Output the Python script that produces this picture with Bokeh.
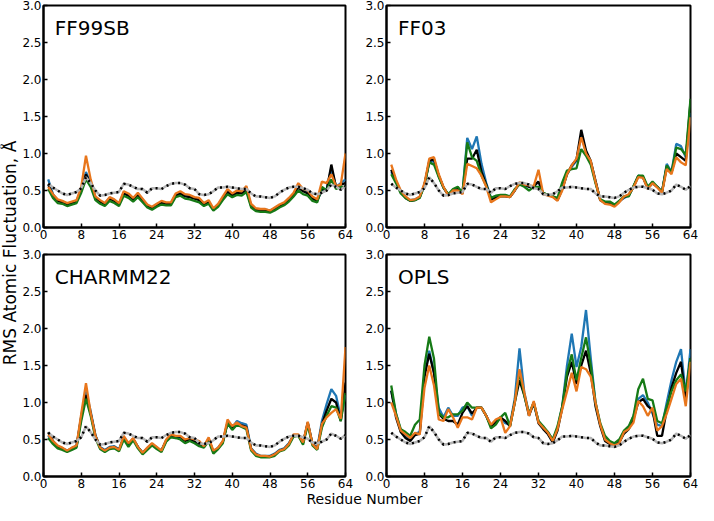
import math
from bokeh.plotting import figure
from bokeh.models import Range1d, Label, FixedTicker, NumeralTickFormatter
from bokeh.layouts import row, column
from bokeh.embed import file_html
from bokeh.resources import INLINE
from bokeh.core.validation import silence
from bokeh.core.validation.warnings import MISSING_RENDERERS

silence(MISSING_RENDERERS, True)

residues = list(range(1, 65))
x_ticks = [0, 8, 16, 24, 32, 40, 48, 56, 64]
y_ticks = [0.0, 0.5, 1.0, 1.5, 2.0, 2.5, 3.0]

exp_rmsf = [0.59, 0.54, 0.50, 0.46, 0.44, 0.46, 0.48, 0.53,
            0.68, 0.60, 0.50, 0.43, 0.44, 0.46, 0.47, 0.48,
            0.59, 0.58, 0.55, 0.52, 0.52, 0.47, 0.53, 0.53,
            0.52, 0.56, 0.59, 0.60, 0.60, 0.58, 0.53, 0.52,
            0.45, 0.44, 0.45, 0.49, 0.54, 0.54, 0.55, 0.54,
            0.53, 0.52, 0.52, 0.46, 0.42, 0.42, 0.41, 0.40,
            0.42, 0.47, 0.51, 0.54, 0.55, 0.55, 0.53, 0.51,
            0.46, 0.45, 0.47, 0.50, 0.58, 0.55, 0.51, 0.56]

# ---- FF99SB ----
ff99sb_blue = [0.65, 0.45, 0.37, 0.35, 0.32, 0.34, 0.36, 0.52,
               0.75, 0.60, 0.41, 0.36, 0.32, 0.40, 0.37, 0.32,
               0.47, 0.44, 0.39, 0.45, 0.38, 0.30, 0.27, 0.31,
               0.34, 0.33, 0.33, 0.44, 0.47, 0.43, 0.42, 0.40,
               0.38, 0.32, 0.35, 0.25, 0.31, 0.40, 0.49, 0.44,
               0.48, 0.47, 0.52, 0.30, 0.25, 0.24, 0.24, 0.23,
               0.26, 0.30, 0.33, 0.38, 0.45, 0.55, 0.50, 0.48,
               0.40, 0.37, 0.50, 0.52, 0.80, 0.55, 0.60, 0.65]
ff99sb_black = [0.58, 0.44, 0.36, 0.34, 0.31, 0.33, 0.35, 0.50,
                0.72, 0.58, 0.40, 0.35, 0.31, 0.39, 0.36, 0.31,
                0.46, 0.43, 0.38, 0.44, 0.37, 0.29, 0.26, 0.30,
                0.33, 0.32, 0.32, 0.43, 0.46, 0.42, 0.41, 0.39,
                0.37, 0.31, 0.34, 0.24, 0.30, 0.39, 0.48, 0.43,
                0.47, 0.46, 0.51, 0.29, 0.24, 0.23, 0.23, 0.22,
                0.25, 0.29, 0.32, 0.37, 0.44, 0.54, 0.49, 0.46,
                0.39, 0.36, 0.52, 0.50, 0.85, 0.54, 0.58, 0.60]
ff99sb_green = [0.52, 0.40, 0.33, 0.32, 0.29, 0.31, 0.33, 0.47,
                0.65, 0.55, 0.37, 0.32, 0.29, 0.36, 0.33, 0.29,
                0.43, 0.40, 0.35, 0.41, 0.34, 0.27, 0.24, 0.28,
                0.31, 0.30, 0.30, 0.41, 0.43, 0.39, 0.38, 0.36,
                0.34, 0.29, 0.32, 0.23, 0.28, 0.37, 0.45, 0.41,
                0.44, 0.43, 0.48, 0.27, 0.22, 0.21, 0.21, 0.20,
                0.23, 0.27, 0.30, 0.35, 0.42, 0.50, 0.45, 0.43,
                0.36, 0.34, 0.55, 0.50, 0.65, 0.52, 0.55, 0.55]
ff99sb_orange = [0.55, 0.45, 0.38, 0.36, 0.33, 0.35, 0.37, 0.55,
                 0.97, 0.65, 0.42, 0.37, 0.33, 0.41, 0.38, 0.33,
                 0.49, 0.46, 0.40, 0.47, 0.39, 0.31, 0.28, 0.32,
                 0.36, 0.34, 0.34, 0.46, 0.49, 0.45, 0.44, 0.41,
                 0.40, 0.33, 0.37, 0.26, 0.32, 0.42, 0.52, 0.46,
                 0.50, 0.49, 0.56, 0.32, 0.26, 0.25, 0.25, 0.23,
                 0.27, 0.31, 0.34, 0.40, 0.47, 0.60, 0.52, 0.50,
                 0.42, 0.38, 0.62, 0.60, 0.72, 0.56, 0.58, 1.00]

# ---- FF03 ----
ff03_blue = [0.75, 0.63, 0.48, 0.41, 0.37, 0.38, 0.41, 0.58,
             0.88, 0.90, 0.70, 0.54, 0.44, 0.50, 0.52, 0.47,
             1.21, 1.06, 1.23, 0.86, 0.60, 0.40, 0.42, 0.43,
             0.43, 0.42, 0.50, 0.60, 0.57, 0.55, 0.56, 0.62,
             0.46, 0.44, 0.42, 0.37, 0.52, 0.72, 0.82, 0.90,
             1.25, 1.02, 0.88, 0.62, 0.37, 0.34, 0.34, 0.30,
             0.36, 0.40, 0.43, 0.55, 0.70, 0.68, 0.53, 0.60,
             0.55, 0.48, 0.86, 0.75, 1.13, 1.10, 0.95, 1.55]
ff03_black = [0.78, 0.62, 0.48, 0.40, 0.36, 0.37, 0.41, 0.58,
              0.90, 0.92, 0.70, 0.54, 0.44, 0.50, 0.52, 0.46,
              0.93, 0.93, 1.05, 0.75, 0.58, 0.38, 0.40, 0.42,
              0.42, 0.41, 0.50, 0.60, 0.58, 0.55, 0.56, 0.62,
              0.46, 0.44, 0.42, 0.37, 0.52, 0.72, 0.84, 0.92,
              1.32, 1.04, 0.90, 0.63, 0.37, 0.33, 0.32, 0.29,
              0.35, 0.41, 0.44, 0.55, 0.69, 0.68, 0.53, 0.60,
              0.55, 0.48, 0.82, 0.74, 1.00, 0.95, 0.90, 1.70]
ff03_green = [0.72, 0.60, 0.46, 0.40, 0.36, 0.37, 0.40, 0.57,
              0.88, 0.85, 0.68, 0.54, 0.45, 0.52, 0.55, 0.47,
              1.15, 0.95, 0.90, 0.70, 0.56, 0.40, 0.43, 0.44,
              0.44, 0.42, 0.52, 0.58, 0.55, 0.50, 0.55, 0.55,
              0.47, 0.44, 0.42, 0.40, 0.61, 0.77, 0.79, 0.80,
              1.06, 0.97, 0.85, 0.60, 0.38, 0.35, 0.35, 0.31,
              0.36, 0.42, 0.42, 0.56, 0.70, 0.70, 0.55, 0.62,
              0.55, 0.48, 0.84, 0.74, 1.08, 1.06, 0.98, 1.74]
ff03_orange = [0.85, 0.65, 0.50, 0.42, 0.37, 0.38, 0.42, 0.60,
               0.93, 0.95, 0.72, 0.55, 0.43, 0.50, 0.50, 0.45,
               0.86, 0.83, 0.80, 0.70, 0.55, 0.34, 0.38, 0.42,
               0.42, 0.41, 0.50, 0.61, 0.58, 0.57, 0.56, 0.78,
               0.45, 0.43, 0.41, 0.36, 0.50, 0.72, 0.84, 0.93,
               1.22, 1.00, 0.90, 0.62, 0.37, 0.32, 0.31, 0.28,
               0.34, 0.42, 0.45, 0.54, 0.68, 0.67, 0.52, 0.60,
               0.54, 0.47, 0.79, 0.72, 0.95, 0.88, 0.84, 1.49]

# ---- CHARMM22 ----
charmm_blue = [0.55, 0.47, 0.41, 0.38, 0.35, 0.38, 0.41, 0.82,
               1.15, 0.88, 0.56, 0.40, 0.36, 0.40, 0.41, 0.37,
               0.52, 0.43, 0.51, 0.40, 0.32, 0.38, 0.44, 0.39,
               0.35, 0.48, 0.55, 0.52, 0.53, 0.49, 0.50, 0.48,
               0.45, 0.41, 0.50, 0.34, 0.39, 0.47, 0.73, 0.66,
               0.75, 0.72, 0.70, 0.38, 0.31, 0.28, 0.28, 0.28,
               0.31, 0.36, 0.38, 0.45, 0.55, 0.56, 0.46, 0.72,
               0.45, 0.38, 0.75, 0.98, 1.18, 1.09, 0.80, 1.10]
charmm_black = [0.60, 0.48, 0.41, 0.38, 0.34, 0.38, 0.41, 0.80,
                1.10, 0.85, 0.55, 0.39, 0.35, 0.39, 0.40, 0.36,
                0.53, 0.44, 0.51, 0.40, 0.32, 0.38, 0.44, 0.39,
                0.35, 0.49, 0.56, 0.54, 0.54, 0.48, 0.50, 0.47,
                0.44, 0.41, 0.51, 0.33, 0.38, 0.47, 0.73, 0.64,
                0.72, 0.69, 0.67, 0.37, 0.30, 0.27, 0.27, 0.27,
                0.30, 0.35, 0.37, 0.44, 0.56, 0.56, 0.45, 0.73,
                0.44, 0.37, 0.70, 0.89, 1.05, 1.00, 0.75, 1.27]
charmm_green = [0.52, 0.44, 0.38, 0.36, 0.33, 0.36, 0.39, 0.75,
                1.05, 0.82, 0.52, 0.37, 0.33, 0.37, 0.38, 0.34,
                0.50, 0.40, 0.49, 0.38, 0.30, 0.36, 0.42, 0.37,
                0.33, 0.47, 0.53, 0.52, 0.50, 0.45, 0.48, 0.45,
                0.41, 0.39, 0.48, 0.31, 0.37, 0.45, 0.72, 0.63,
                0.70, 0.67, 0.64, 0.35, 0.28, 0.26, 0.26, 0.26,
                0.28, 0.34, 0.36, 0.42, 0.54, 0.55, 0.43, 0.70,
                0.42, 0.36, 0.66, 0.82, 0.95, 0.93, 0.75, 1.13]
charmm_orange = [0.57, 0.48, 0.42, 0.39, 0.35, 0.39, 0.42, 0.85,
                 1.26, 0.86, 0.55, 0.39, 0.35, 0.39, 0.40, 0.36,
                 0.55, 0.45, 0.52, 0.40, 0.32, 0.39, 0.45, 0.40,
                 0.35, 0.50, 0.57, 0.55, 0.55, 0.50, 0.52, 0.50,
                 0.48, 0.41, 0.53, 0.35, 0.39, 0.48, 0.77, 0.68,
                 0.73, 0.68, 0.66, 0.37, 0.30, 0.28, 0.28, 0.27,
                 0.30, 0.35, 0.37, 0.44, 0.57, 0.57, 0.46, 0.74,
                 0.44, 0.37, 0.71, 0.80, 0.86, 0.91, 0.78, 1.75]

# ---- OPLS ----
opls_blue = [1.16, 0.85, 0.62, 0.55, 0.50, 0.58, 0.60, 1.40,
             1.70, 1.40, 0.93, 0.80, 0.93, 0.82, 0.82, 0.93,
             0.95, 0.82, 0.93, 0.93, 0.82, 0.68, 0.73, 0.80,
             0.72, 0.70, 1.05, 1.73, 1.14, 0.85, 0.98, 0.75,
             0.66, 0.60, 0.50, 0.65, 0.95, 1.50, 1.93, 1.48,
             1.75, 2.25, 1.60, 1.00, 0.70, 0.52, 0.47, 0.44,
             0.48, 0.60, 0.66, 0.82, 1.05, 1.10, 1.00, 0.85,
             0.70, 0.68, 1.00, 1.30, 1.55, 1.72, 1.10, 1.72]
opls_black = [1.16, 0.80, 0.60, 0.52, 0.48, 0.56, 0.58, 1.35,
              1.66, 1.40, 0.85, 0.78, 0.75, 0.75, 0.70, 0.86,
              0.95, 0.85, 0.93, 0.93, 0.82, 0.68, 0.73, 0.80,
              0.75, 0.68, 1.00, 1.30, 1.10, 0.82, 1.00, 0.72,
              0.64, 0.57, 0.46, 0.62, 0.93, 1.35, 1.55, 1.25,
              1.50, 1.70, 1.40, 0.95, 0.68, 0.48, 0.44, 0.41,
              0.46, 0.58, 0.64, 0.78, 1.00, 1.05, 0.95, 0.90,
              0.55, 0.55, 0.90, 1.20, 1.40, 1.55, 1.05, 1.60]
opls_green = [1.23, 0.85, 0.64, 0.60, 0.55, 0.70, 0.77, 1.50,
              1.89, 1.59, 0.86, 0.80, 0.80, 0.84, 0.84, 0.89,
              1.00, 0.93, 0.93, 0.93, 0.82, 0.65, 0.70, 0.80,
              0.86, 0.68, 1.00, 1.41, 1.10, 0.85, 1.00, 0.75,
              0.68, 0.60, 0.50, 0.68, 0.95, 1.40, 1.65, 1.30,
              1.60, 1.88, 1.50, 1.00, 0.72, 0.55, 0.48, 0.45,
              0.50, 0.62, 0.68, 0.82, 1.18, 1.32, 1.05, 1.03,
              0.75, 0.72, 0.95, 1.15, 1.30, 1.38, 1.15, 1.60]
opls_orange = [1.00, 0.82, 0.62, 0.57, 0.52, 0.59, 0.57, 1.20,
               1.50, 1.23, 0.77, 0.75, 0.91, 0.80, 0.66, 0.80,
               0.80, 0.77, 0.93, 0.93, 0.82, 0.70, 0.77, 0.80,
               0.59, 0.68, 1.00, 1.45, 1.14, 0.82, 1.02, 0.73,
               0.66, 0.59, 0.48, 0.64, 0.91, 1.15, 1.40, 1.15,
               1.48, 1.45, 1.35, 1.00, 0.70, 0.50, 0.45, 0.42,
               0.45, 0.60, 0.64, 0.73, 1.02, 0.95, 0.82, 0.93,
               0.62, 0.68, 0.85, 1.05, 1.25, 1.32, 0.95, 1.55]

panel_titles = ["FF99SB", "FF03", "CHARMM22", "OPLS"]
panel_series = [
    [ff99sb_blue, ff99sb_black, ff99sb_green, ff99sb_orange],
    [ff03_blue, ff03_black, ff03_green, ff03_orange],
    [charmm_blue, charmm_black, charmm_green, charmm_orange],
    [opls_blue, opls_black, opls_green, opls_orange],
]
series_colors = ["#1f77b4", "#000000", "#167a16", "#e8761c"]

FONT = "DejaVu Sans"


def make_panel(title, series, width, height, left, right, top, bottom):
    p = figure(width=width, height=height,
               x_range=Range1d(0, 64), y_range=Range1d(0, 3),
               output_backend="svg", toolbar_location=None)
    p.min_border_left = left
    p.min_border_right = right
    p.min_border_top = top
    p.min_border_bottom = bottom
    p.xgrid.visible = False
    p.ygrid.visible = False
    p.outline_line_color = "black"
    p.outline_line_width = 2
    p.outline_line_alpha = 1.0
    p.background_fill_color = "white"
    p.border_fill_color = "white"

    p.xaxis.ticker = FixedTicker(ticks=x_ticks)
    p.yaxis.ticker = FixedTicker(ticks=y_ticks)
    p.yaxis.formatter = NumeralTickFormatter(format="0.0")
    for ax in (p.xaxis, p.yaxis):
        ax.axis_line_width = 2
        ax.axis_line_color = "black"
        ax.major_tick_in = 4
        ax.major_tick_out = 0
        ax.major_tick_line_width = 1.5
        ax.major_tick_line_color = "black"
        ax.minor_tick_line_color = None
        ax.major_label_text_font = FONT
        ax.major_label_text_font_size = "12px"
        ax.major_label_text_color = "black"
        ax.major_label_standoff = 2

    for ys, col in zip(series, series_colors):
        p.line(residues, ys, line_color=col, line_width=2.3)
    p.line(residues, exp_rmsf, line_color="#b4b4b4", line_width=2.5)
    p.line(residues, exp_rmsf, line_color="black", line_width=2.5, line_dash="2 4")

    p.add_layout(Label(x=2.4, y=2.86, text=title, text_font=FONT,
                       text_font_size="20px", text_baseline="top",
                       text_align="left", text_color="black"))
    return p


p1 = make_panel(panel_titles[0], panel_series[0], 343, 242, 20, 17, 5, 15)
p2 = make_panel(panel_titles[1], panel_series[1], 336, 242, 21, 8, 5, 15)
p3 = make_panel(panel_titles[2], panel_series[2], 343, 249, 20, 17, 12, 15)
p4 = make_panel(panel_titles[3], panel_series[3], 336, 249, 21, 8, 12, 15)


def blank(width, height, xr, yr):
    f = figure(width=width, height=height, x_range=Range1d(*xr), y_range=Range1d(*yr),
               output_backend="svg", toolbar_location=None, min_border=0)
    f.axis.visible = False
    f.xgrid.visible = False
    f.ygrid.visible = False
    f.outline_line_color = None
    return f


ylab = blank(19, 505, (0, 19), (0, 1))
ylab.add_layout(Label(x=9.5, y=0.5, text="RMS Atomic Fluctuation, \u00c5",
                      angle=math.pi / 2, text_align="center", text_baseline="middle",
                      text_font=FONT, text_font_size="17px", text_color="black"))

xlab = blank(679, 14, (0, 679), (0, 1))
xlab.add_layout(Label(x=345, y=0.5, text="Residue Number",
                      text_align="center", text_baseline="middle",
                      text_font=FONT, text_font_size="14px", text_color="black"))

layout = row(ylab, column(row(p1, p2), row(p3, p4), xlab))

open("out.html", "w").write(file_html(layout, INLINE))
